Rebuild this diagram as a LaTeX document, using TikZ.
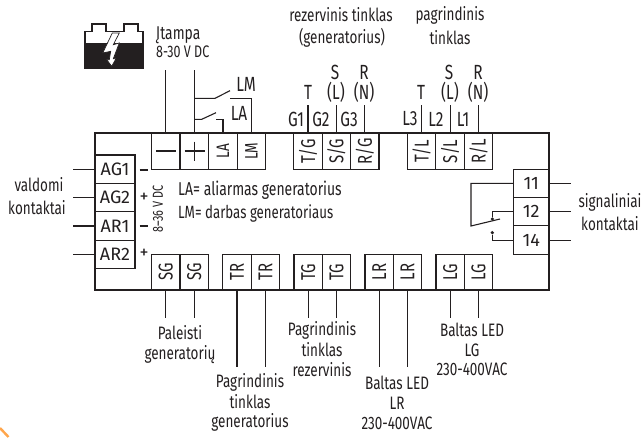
\documentclass[tikz,border=0pt]{standalone}
\usepackage{fontspec}
\setmainfont[FakeStretch=0.75]{Fira Sans}
\newfontfamily\widef{Fira Sans}
\definecolor{ink}{HTML}{231F20}
\tikzset{
 x=1pt,y=-1pt,
 lbl/.style={inner sep=0pt,text=ink,font=\fontsize{18pt}{19pt}\selectfont},
 caplbl/.style={lbl,font=\fontsize{20.5pt}{21pt}\selectfont},
 term/.style={draw=ink,line width=1.1pt,inner sep=0pt,text=ink,font=\fontsize{20pt}{20pt}\selectfont},
 vterm/.style={term,minimum width=28.4pt,minimum height=35.5pt},
 hterm/.style={term,minimum width=40pt,minimum height=28.4pt,font=\widef\fontsize{18pt}{18pt}\selectfont},
 rterm/.style={term,minimum width=35.7pt,minimum height=28.4pt,font=\widef\fontsize{18pt}{18pt}\selectfont},
 wire/.style={draw=ink,line width=1.1pt},
 frame/.style={draw=ink,line width=2.2pt},
 dotc/.style={circle,fill=ink,inner sep=0pt,minimum size=3.6pt},
 plusmark/.style={lbl,font=\widef\fontsize{18pt}{18pt}\selectfont},
}
\newcommand{\rt}[1]{\rotatebox{90}{#1}}
\begin{document}
\begin{tikzpicture}
\useasboundingbox (0,0) rectangle (642,437);
% corner mark
\draw[color=orange!70!white,line width=2.4pt] (0,428) -- (8.5,437);
% frame
\node[frame,minimum width=454pt,minimum height=157pt,inner sep=0pt] (box) at (322,211.5) {};
% top terminals
\node[vterm] (tm) at (165.8,151.3) {};
\draw[line width=1.8pt,draw=ink] (156,151.3) -- (176,151.3);
\node[vterm] (tp) at (194.4,151.3) {};
\draw[line width=1.8pt,draw=ink] (184.5,151.3) -- (204.5,151.3) (194.4,141.5) -- (194.4,161);
\node[vterm,font=\fontsize{18pt}{18pt}\selectfont] (tla) at (223,151.3) {\rt{LA}};
\node[vterm,font=\fontsize{18pt}{18pt}\selectfont] (tlm) at (251.4,151.3) {\rt{LM}};
\node[vterm] (tg1) at (308,151.3) {\rt{T/G}};
\node[vterm] (tg2) at (336.4,151.3) {\rt{S/G}};
\node[vterm] (tg3) at (364.8,151.3) {\rt{R/G}};
\node[vterm] (tl1) at (421.7,151.3) {\rt{T/L}};
\node[vterm] (tl2) at (450.1,151.3) {\rt{S/L}};
\node[vterm] (tl3) at (478.5,151.3) {\rt{R/L}};
% bottom terminals
\node[vterm] (sg1) at (165.8,272) {\rt{SG}};
\node[vterm] (sg2) at (194.2,272) {\rt{SG}};
\node[vterm] (tr1) at (237,272) {\rt{TR}};
\node[vterm] (tr2) at (265.4,272) {\rt{TR}};
\node[vterm] (tgb1) at (308.2,272) {\rt{TG}};
\node[vterm] (tgb2) at (336.6,272) {\rt{TG}};
\node[vterm] (lr1) at (379.2,272) {\rt{LR}};
\node[vterm] (lr2) at (407.6,272) {\rt{LR}};
\node[vterm] (lg1) at (450.2,272) {\rt{LG}};
\node[vterm] (lg2) at (478.6,272) {\rt{LG}};
% left terminals
\node[hterm] (ag1) at (115,169.2) {AG1};
\node[hterm] (ag2) at (115,197.6) {AG2};
\node[hterm] (ar1) at (115,226) {AR1};
\node[hterm] (ar2) at (115,254.4) {AR2};
% right terminals
\node[rterm] (r11) at (531.2,183.3) {11};
\node[rterm] (r12) at (531.2,211.7) {12};
\node[rterm] (r14) at (531.2,240.1) {14};
% free ends
\foreach \n/\y in {ag1/169.2,ag2/197.6,ar1/226,ar2/254.4}{
  \coordinate (\n e) at (73,\y);
  \draw[wire] (\n e) -- (\n.west);
}
\foreach \n/\y in {r11/183.3,r12/211.7,r14/240.1}{
  \coordinate (\n e) at (571,\y);
  \draw[wire] (\n.east) -- (\n e);
}
\foreach \n/\y in {sg1/318,sg2/318,tr1/367,tr2/367,tgb1/318,tgb2/318,lr1/367,lr2/367,lg1/318,lg2/318}{
  \coordinate (\n e) at (\n.south |- 0,\y);
  \draw[wire] (\n.south) -- (\n e);
}
\foreach \n in {tg1,tg2,tg3,tl1,tl2,tl3}{
  \coordinate (\n e) at (\n.north |- 0,105);
  \draw[wire] (\n.north) -- (\n e);
}
\coordinate (tme) at (tm.north |- 0,69.5);
\coordinate (tpe) at (tp.north |- 0,69.5);
\draw[wire] (tm.north) -- (tme);
\draw[wire] (tp.north) -- (tpe);
% LM / LA contacts
\coordinate (lmA) at (215,98.3);
\coordinate (lmB) at (230,90.7);
\coordinate (lmC) at (230,98.3);
\coordinate (laA) at (201.7,119.3);
\coordinate (laB) at (216,112.7);
\coordinate (laC) at (216,119.3);
\draw[wire] (tp.north |- lmA) -- (lmA) -- (lmB);
\draw[wire] (lmC) -| (tlm.north);
\draw[wire] (tp.north |- laA) -- (laA) -- (laB);
\draw[wire] (laC) -| (tla.north);
% relay
\coordinate (pivot) at (471,226);
\coordinate (blade) at (500,219);
\node[dotc] (d12) at (492.3,219) {};
\node[dotc] (d14) at (492.3,232.7) {};
\draw[wire] (r11.west) -| (pivot) -- (blade);
\draw[wire] (r12.west) -| (d12);
\draw[wire] (r14.west) -| (d14);
% battery
\fill[ink] (84,43) rectangle (143.5,68.5);
\draw[ink,line width=1.8pt,line join=miter] (85,43) -- (85,31.5) -- (91.7,31.5) -- (91.7,24) -- (106,24) -- (106,31.5) -- (124,31.5) -- (124,24) -- (138,24) -- (138,31.5) -- (143,31.5) -- (143,43);
\draw[fill=white,draw=ink,line width=0.7pt] (112.3,33) -- (119.3,33) -- (113.3,44.7) -- (119.3,43) -- (113.3,58.7) -- (116,58.7) -- (111.7,66.3) -- (106.7,59.7) -- (109.3,59.7) -- (110.7,51.3) -- (102.7,53) -- cycle;
% labels
\node[lbl,font=\fontsize{18.5pt}{18pt}\selectfont,anchor=west] (it) at (156,35) {Įtampa};
\node[lbl,font=\fontsize{16.7pt}{16pt}\selectfont,anchor=west] (v1) at (156,52) {8-30 V DC};
\node[caplbl] (lm) at (246,84) {LM};
\node[caplbl] (la) at (239,113) {LA};
\node[lbl] at (341,15) {rezervinis tinklas};
\node[lbl] at (342,38) {(generatorius)};
\node[lbl] at (450,15) {pagrindinis};
\node[lbl] at (450,38) {tinklas};
\node[caplbl] at (308,92) {T};
\node[caplbl] at (335,72) {S};
\node[caplbl] at (336,92) {(L)};
\node[caplbl] at (364,72) {R};
\node[caplbl] at (364,92) {(N)};
\node[caplbl] at (421,92) {T};
\node[caplbl] at (449,72) {S};
\node[caplbl] at (450,92) {(L)};
\node[caplbl] at (478,72) {R};
\node[caplbl] at (478,92) {(N)};
\node[caplbl] at (296,119) {G1};
\node[caplbl] at (321,119) {G2};
\node[caplbl] at (349,119) {G3};
\node[caplbl] at (410,119) {L3};
\node[caplbl] at (436,119) {L2};
\node[caplbl] at (463,119) {L1};
\node[lbl] at (39,185) {valdomi};
\node[lbl] at (37,208) {kontaktai};
\draw[ink,line width=1.6pt] (139.5,170) -- (147.5,170) (139.5,226) -- (147.5,226);
\node[plusmark] at (144,197.5) {+};
\node[plusmark] at (144,254) {+};
\node[lbl,font=\fontsize{14.5pt}{14pt}\selectfont,rotate=90] at (158,209) {8–36 V DC};
\node[lbl,font=\fontsize{18.6pt}{19pt}\selectfont,anchor=west] at (178,190) {LA= aliarmas generatorius};
\node[lbl,font=\fontsize{17.7pt}{19pt}\selectfont,anchor=west] at (178,213) {LM= darbas generatoriaus};
\node[lbl] at (610,202) {signaliniai};
\node[lbl] at (610,224) {kontaktai};
\node[lbl] at (180,333) {Paleisti};
\node[lbl] at (180,355) {generatorių};
\node[lbl] at (250,382) {Pagrindinis};
\node[lbl] at (250,402) {tinklas};
\node[lbl] at (250,422) {generatorius};
\node[lbl] at (322,330) {Pagrindinis};
\node[lbl] at (322,350) {tinklas};
\node[lbl] at (322,370) {rezervinis};
\node[lbl] at (397,383) {Baltas LED};
\node[lbl] at (397,403) {LR};
\node[lbl] at (397,423) {230-400VAC};
\node[lbl] at (472,330) {Baltas LED};
\node[lbl] at (472,350) {LG};
\node[lbl] at (472,369) {230-400VAC};
\end{tikzpicture}
\end{document}
